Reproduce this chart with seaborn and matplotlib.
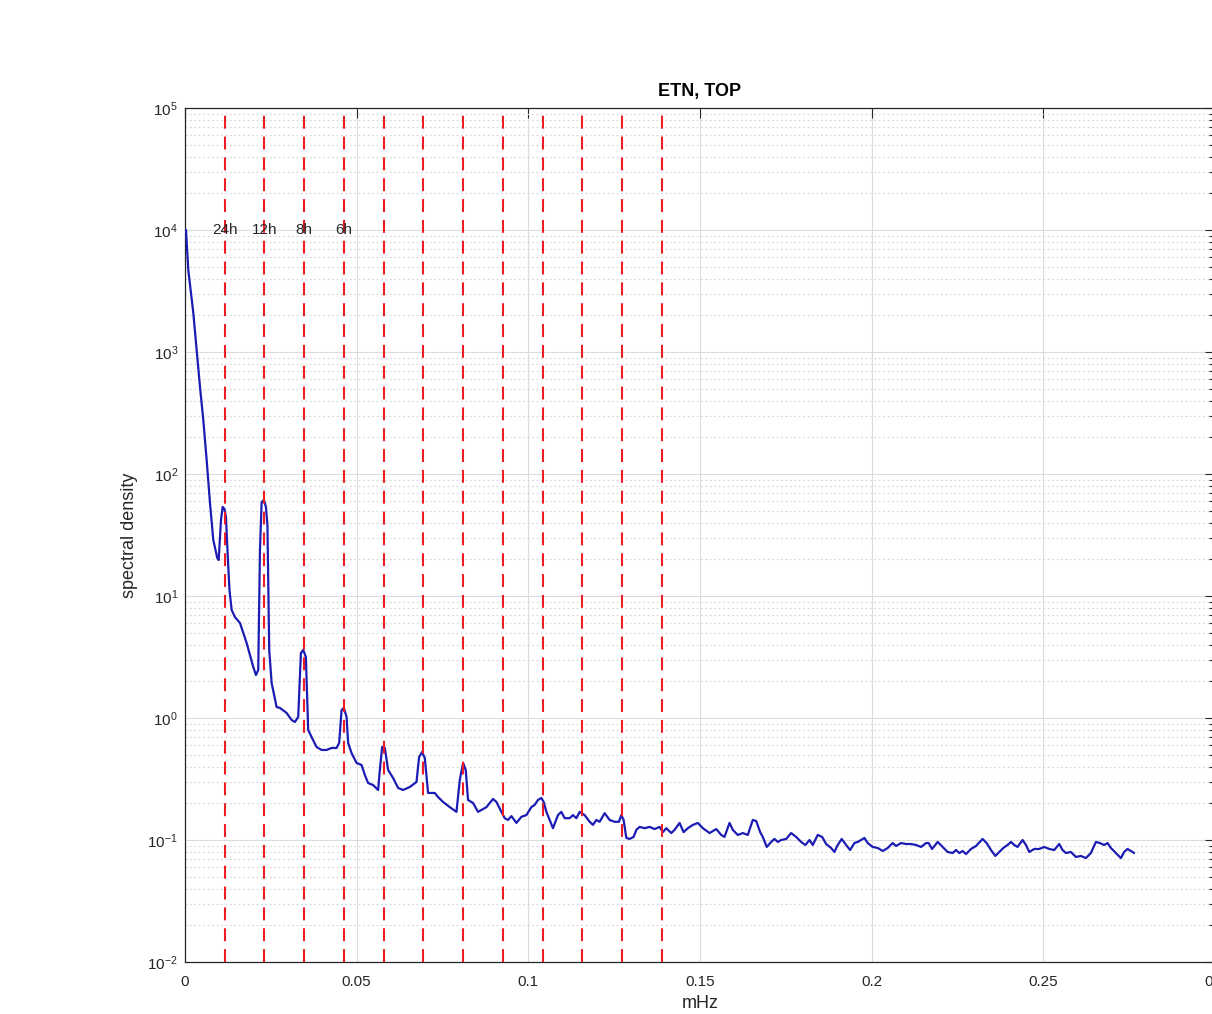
import numpy as np
import pandas as pd
import matplotlib
matplotlib.use("Agg")
import matplotlib.pyplot as plt
import seaborn as sns
from matplotlib.ticker import FixedLocator, LogLocator, NullLocator, NullFormatter, FuncFormatter

# Power spectral density of the ETN record, top sensor (frequency in mHz)
freq_mhz = [
    0.00029, 0.00096, 0.00242, 0.00340, 0.00437, 0.00533, 0.00631, 0.00728, 0.00824, 0.00940,
    0.00981, 0.01048, 0.01097, 0.01149, 0.01193, 0.01251, 0.01295, 0.01359, 0.01455, 0.01601,
    0.01795, 0.01988, 0.02066, 0.02133, 0.02183, 0.02232, 0.02299, 0.02357, 0.02401, 0.02453,
    0.02523, 0.02668, 0.02765, 0.02959, 0.03105, 0.03201, 0.03297, 0.03376, 0.03443, 0.03521,
    0.03588, 0.03687, 0.03833, 0.03978, 0.04124, 0.04269, 0.04415, 0.04490, 0.04560, 0.04627,
    0.04706, 0.04752, 0.04851, 0.04997, 0.05142, 0.05238, 0.05334, 0.05480, 0.05625, 0.05675,
    0.05742, 0.05820, 0.05916, 0.06062, 0.06207, 0.06353, 0.06548, 0.06743, 0.06818, 0.06906,
    0.06984, 0.07080, 0.07275, 0.07371, 0.07517, 0.07712, 0.07907, 0.08003, 0.08099, 0.08177,
    0.08244, 0.08390, 0.08535, 0.08780, 0.08972, 0.09071, 0.09216, 0.09312, 0.09408, 0.09507,
    0.09653, 0.09798, 0.09944, 0.10089, 0.10185, 0.10281, 0.10380, 0.10447, 0.10526, 0.10622,
    0.10718, 0.10863, 0.10962, 0.11058, 0.11204, 0.11300, 0.11399, 0.11495, 0.11640, 0.11786,
    0.11882, 0.11981, 0.12077, 0.12222, 0.12368, 0.12513, 0.12638, 0.12708, 0.12775, 0.12854,
    0.12950, 0.13066, 0.13145, 0.13241, 0.13386, 0.13532, 0.13677, 0.13823, 0.13919, 0.14018,
    0.14163, 0.14259, 0.14405, 0.14521, 0.14646, 0.14792, 0.14937, 0.15083, 0.15278, 0.15473,
    0.15618, 0.15714, 0.15860, 0.15956, 0.16101, 0.16247, 0.16392, 0.16538, 0.16637, 0.16753,
    0.16829, 0.16945, 0.17073, 0.17169, 0.17266, 0.17364, 0.17510, 0.17655, 0.17801, 0.17946,
    0.18071, 0.18188, 0.18284, 0.18429, 0.18557, 0.18674, 0.18819, 0.18915, 0.19011, 0.19128,
    0.19256, 0.19372, 0.19497, 0.19594, 0.19692, 0.19788, 0.19885, 0.20030, 0.20176, 0.20321,
    0.20467, 0.20612, 0.20711, 0.20856, 0.21002, 0.21148, 0.21293, 0.21439, 0.21584, 0.21660,
    0.21759, 0.21922, 0.22067, 0.22213, 0.22358, 0.22457, 0.22553, 0.22649, 0.22748, 0.22893,
    0.23039, 0.23231, 0.23348, 0.23476, 0.23601, 0.23717, 0.23833, 0.23959, 0.24058, 0.24153,
    0.24250, 0.24396, 0.24495, 0.24590, 0.24736, 0.24881, 0.25027, 0.25172, 0.25318, 0.25463,
    0.25559, 0.25658, 0.25803, 0.25949, 0.26094, 0.26240, 0.26385, 0.26531, 0.26647, 0.26772,
    0.26869, 0.26968, 0.27113, 0.27259, 0.27354, 0.27451, 0.27550, 0.27645,
]
density = [
    10000, 4700, 2090, 1040, 516, 277, 130, 57.8, 28.8, 20.5,
    19.7, 42.0, 53.7, 51.7, 44.4, 19.7, 11.2, 7.68, 6.72, 6.01,
    4.12, 2.62, 2.25, 2.47, 23.8, 58.9, 61.2, 53.7, 38.2, 3.61,
    1.94, 1.23, 1.21, 1.10, 0.964, 0.927, 1.02, 3.41, 3.61, 3.16,
    0.798, 0.698, 0.578, 0.547, 0.547, 0.568, 0.568, 0.624, 1.16, 1.21,
    1.02, 0.624, 0.516, 0.428, 0.412, 0.341, 0.293, 0.282, 0.257, 0.375,
    0.578, 0.568, 0.375, 0.322, 0.267, 0.257, 0.272, 0.299, 0.479, 0.526,
    0.470, 0.243, 0.243, 0.225, 0.205, 0.186, 0.170, 0.310, 0.428, 0.375,
    0.213, 0.201, 0.170, 0.186, 0.217, 0.205, 0.170, 0.151, 0.146, 0.157,
    0.138, 0.155, 0.160, 0.186, 0.194, 0.213, 0.221, 0.205, 0.170, 0.146,
    0.125, 0.160, 0.170, 0.151, 0.151, 0.160, 0.151, 0.170, 0.160, 0.141,
    0.133, 0.146, 0.141, 0.166, 0.146, 0.141, 0.141, 0.160, 0.146, 0.104,
    0.102, 0.106, 0.121, 0.128, 0.125, 0.128, 0.123, 0.128, 0.116, 0.125,
    0.114, 0.121, 0.138, 0.116, 0.125, 0.133, 0.138, 0.125, 0.114, 0.123,
    0.110, 0.106, 0.138, 0.121, 0.110, 0.114, 0.110, 0.146, 0.143, 0.116,
    0.106, 0.0877, 0.0964, 0.102, 0.0964, 0.100, 0.102, 0.114, 0.106, 0.0964,
    0.0910, 0.100, 0.0910, 0.110, 0.106, 0.0927, 0.0860, 0.0798, 0.0910, 0.102,
    0.0910, 0.0828, 0.0944, 0.0964, 0.100, 0.104, 0.0944, 0.0877, 0.0860, 0.0813,
    0.0860, 0.0944, 0.0893, 0.0944, 0.0927, 0.0927, 0.0910, 0.0877, 0.0944, 0.0944,
    0.0844, 0.0964, 0.0877, 0.0798, 0.0782, 0.0828, 0.0782, 0.0813, 0.0767, 0.0844,
    0.0893, 0.102, 0.0944, 0.0828, 0.0740, 0.0798, 0.0860, 0.0910, 0.0964, 0.0910,
    0.0877, 0.100, 0.0910, 0.0798, 0.0844, 0.0844, 0.0877, 0.0844, 0.0828, 0.0927,
    0.0828, 0.0782, 0.0798, 0.0726, 0.0740, 0.0711, 0.0782, 0.0964, 0.0944, 0.0910,
    0.0944, 0.0860, 0.0782, 0.0711, 0.0798, 0.0844, 0.0813, 0.0782,
]

# Daily tide harmonics (periods in hours); the first four are annotated
period_hours = [24, 12, 8, 6, 24 / 5, 4, 24 / 7, 3, 24 / 9, 2.4, 24 / 11, 2]
period_labels = ["24h", "12h", "8h", "6h"]

x_ticks = [0, 0.05, 0.1, 0.15, 0.2, 0.25, 0.3]
x_tick_labels = ["0", "0.05", "0.1", "0.15", "0.2", "0.25", "0.3"]
y_decades = [-2, -1, 0, 1, 2, 3, 4, 5]

sns.set_theme(style="white")
plt.rcParams["font.family"] = ["Liberation Sans", "DejaVu Sans"]
plt.rcParams["mathtext.default"] = "regular"
plt.rcParams["axes.unicode_minus"] = False

W, H = 1212, 1014
fig = plt.figure(figsize=(W / 100, H / 100), dpi=100)
fig.patch.set_facecolor("white")
ax = fig.add_axes([185 / W, 1 - 962 / H, 1030 / W, 854 / H])
ax.set_facecolor("white")
ax.set_yscale("log")

df = pd.DataFrame({"mHz": freq_mhz, "spectral density": density})
sns.lineplot(data=df, x="mHz", y="spectral density", ax=ax, color="#1c1cb4",
             lw=1.6, estimator=None, sort=False, zorder=3)

# Harmonic markers
tide_freqs = [1000.0 / (3600.0 * h) for h in period_hours]
for f in tide_freqs:
    ax.axvline(f, color="#ee1c25", lw=1.5, dashes=(6.2, 3.8), zorder=4)
for f, lab in zip(tide_freqs, period_labels):
    ax.text(f, 1e4, lab, ha="center", va="center", fontsize=11, color="#262626", zorder=5)

ax.set_xlim(0, 0.3)
ax.set_ylim(10.0 ** y_decades[0], 10.0 ** y_decades[-1])

ax.xaxis.set_major_locator(FixedLocator(x_ticks))
ax.set_xticklabels(x_tick_labels)
ax.xaxis.set_minor_locator(NullLocator())
ax.yaxis.set_major_locator(FixedLocator([10.0 ** d for d in y_decades]))
ax.yaxis.set_major_formatter(FuncFormatter(lambda v, p: f"$10^{{{int(round(np.log10(v)))}}}$"))
ax.yaxis.set_minor_locator(LogLocator(base=10, subs=np.arange(2, 10), numticks=20))
ax.yaxis.set_minor_formatter(NullFormatter())

ax.grid(True, which="major", axis="both", color="#dcdcdc", lw=0.8, ls="-")
ax.grid(True, which="minor", axis="y", color="#d4d4d4", lw=0.8, ls=(0, (1.5, 2.5)))
ax.set_axisbelow(True)

ax.tick_params(which="both", direction="in", top=True, right=True, colors="#262626",
               labelsize=11, width=0.8)
ax.tick_params(which="major", length=7)
ax.tick_params(which="minor", length=4)
ax.tick_params(axis="x", pad=9)
ax.tick_params(axis="y", pad=5)
for s in ax.spines.values():
    s.set_color("#262626")
    s.set_linewidth(0.9)

ax.set_xlabel("mHz", fontsize=13, color="#262626")
ax.xaxis.label.set_va("center")
ax.xaxis.set_label_coords(0.5, -0.049)
ax.set_ylabel("spectral density", fontsize=13, color="#262626")
ax.yaxis.label.set_va("center")
ax.yaxis.set_label_coords(-0.0534, 0.5)
ax.set_title("ETN, TOP", fontsize=13, fontweight="bold", color="#000000", y=1.0199, va="center", pad=0)

fig.savefig("out.png", dpi=100, facecolor="white")
